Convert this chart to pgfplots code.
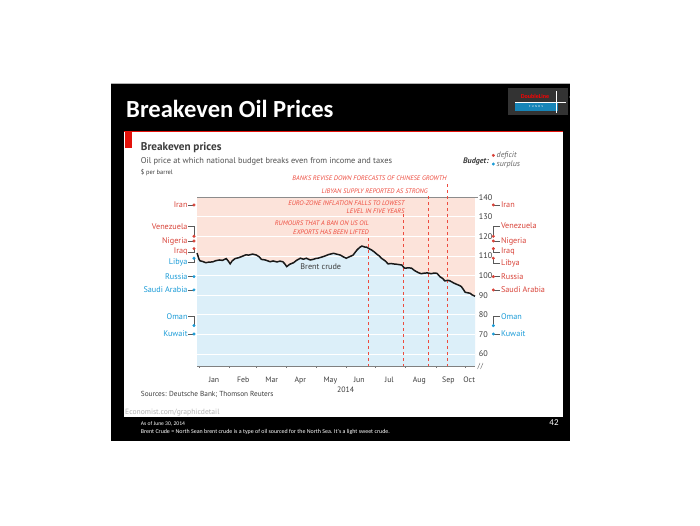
\documentclass[border=0pt]{standalone}
\usepackage{pgfplots}
\pgfplotsset{compat=1.18}
\usepackage{pgfplotstable}
\usepackage{fontspec}
\setmainfont{PT Sans}
\newfontfamily\slidefont{Carlito}
\definecolor{ecored}{HTML}{E3120B}
\definecolor{defred}{HTML}{D9443A}
\definecolor{surblue}{HTML}{1B9CD8}
\definecolor{pinkbg}{HTML}{FCE3DA}
\definecolor{bluebg}{HTML}{DCEFF9}
\definecolor{txtgray}{HTML}{3C3C3C}
\definecolor{dashred}{HTML}{EE4B3E}

\pgfplotstableread{
x y
-2 111.5
0 108.5
1 107.6
4 107.2
7 106.6
10 106.9
14 107.0
17 107.6
21 108.0
24 107.8
28 108.7
30 107.5
32 106.0
34 107.5
37 108.7
41 109.2
45 110.0
48 110.6
51 110.5
55 111.0
59 110.5
62 109.5
64 108.3
68 108.0
73 107.1
76 107.5
80 107.0
83 107.4
86 107.1
88 106.0
90 104.6
93 105.8
97 106.6
100 107.8
104 108.9
107 108.4
110 108.9
114 108.0
117 108.3
120 108.8
122 108.9
126 109.5
129 110.0
133 110.8
138 111.4
141 111.0
145 110.5
148 109.6
151 108.9
155 109.8
158 110.5
162 113.1
165 114.5
167 115.1
170 114.6
172 114.5
175 113.6
177 113.1
180 112.0
182 111.1
185 110.0
187 108.9
191 107.5
194 106.0
197 106.2
199 106.0
203 105.8
208 105.4
210 104.2
211 103.8
215 104.0
218 103.8
221 102.6
225 101.5
228 101.0
230 101.2
234 101.4
238 101.0
241 101.3
244 101.2
247 99.5
250 98.5
252 97.3
255 97.6
257 97.4
261 96.3
264 95.6
267 95.0
269 94.4
271 93.0
273 91.5
276 91.2
278 91.0
280 90.2
283 89.5
}\brent

\begin{document}
\begin{tikzpicture}[x=1pt,y=1pt]
% canvas
\fill[white] (0,0) rectangle (700,525);
% slide
\fill[black] (111,84) rectangle (570,442);
\draw[gray!60, line width=0.6pt] (111,442) -- (570,442);
\node[anchor=west, text=white, inner sep=0pt] at (126,416) {\slidefont\bfseries\fontsize{24.6}{25}\selectfont Breakeven Oil Prices};
% logo
\fill[black!80] (508,410) rectangle (568,437);
\node[anchor=center, text=red, inner sep=0pt] at (535,428.5) {\slidefont\bfseries\fontsize{6}{6}\selectfont DoubleLine};
\fill[surblue!85!black] (515,414) rectangle (558,422);
\node[anchor=center, text=white, inner sep=0pt] at (536,418) {\slidefont\fontsize{3}{3}\selectfont F\ \ U\ \ N\ \ D\ \ S};
\draw[white, line width=0.8pt] (556,412) -- (556,434);
\draw[white, line width=0.8pt] (515,423) -- (566,423);
\fill[white] (571,428) circle (1.6);
% panel
\fill[white] (124,108) rectangle (563,394);
\draw[ecored, line width=1pt] (124,393.5) -- (563,393.5);
\fill[ecored] (124.5,377) rectangle (131.5,394);
% titles
\node[anchor=base west, inner sep=0pt, text=txtgray] at (140.7,374) {\bfseries\fontsize{11.2}{12}\selectfont Breakeven prices};
\node[anchor=base west, inner sep=0pt, text=txtgray!90] at (140.7,361) {\fontsize{8.4}{9}\selectfont Oil price at which national budget breaks even from income and taxes};
\node[anchor=base west, inner sep=0pt, text=txtgray] at (140.7,350.5) {\fontsize{6.4}{7}\selectfont \$ per barrel};
% budget legend
\node[anchor=base east, inner sep=0pt, text=txtgray] at (489,361) {\bfseries\itshape\fontsize{8}{9}\selectfont Budget:};
\node[anchor=west, inner sep=0pt, text=txtgray!80] at (496.5,369.5) {\itshape\fontsize{8}{9}\selectfont deficit};
\node[anchor=west, inner sep=0pt, text=txtgray!80] at (496.5,360.5) {\itshape\fontsize{8}{9}\selectfont surplus};
% footer texts
\node[anchor=base, inner sep=0pt, text=txtgray] at (345.7,132.5) {\fontsize{7.8}{9}\selectfont 2014};
\node[anchor=west, inner sep=0pt, text=txtgray] at (140.7,130.7) {\fontsize{7.3}{9}\selectfont Sources: Deutsche Bank; Thomson Reuters};
\node[anchor=west, inner sep=0pt, text=gray!60] at (125,112.3) {\fontsize{7.6}{9}\selectfont Economist.com/graphicdetail};
\node[anchor=west, inner sep=0pt, text=white] at (140.7,100.7) {\slidefont\fontsize{5.6}{6}\selectfont As of June 30, 2014};
\node[anchor=west, inner sep=0pt, text=white] at (140.7,93) {\slidefont\fontsize{5.95}{6}\selectfont Brent Crude = North Sean brent crude is a type of oil sourced for the North Sea. It's a light sweet crude.};
\node[anchor=center, inner sep=0pt, text=white] at (554,102.7) {\slidefont\fontsize{9}{10}\selectfont 42};
% axis break symbol
\draw[gray, line width=0.5pt] (477.5,156) -- (480,162);
\draw[gray, line width=0.5pt] (480.5,156) -- (483,162);

\begin{axis}[
  at={(197pt,158.3pt)}, anchor=south west,
  scale only axis, width=278pt, height=169.4pt,
  xmin=-2, xmax=283, ymin=53.5, ymax=140,
  clip=false,
  axis line style={draw=none},
  xtick={15.4,45.4,74.6,103.9,134.7,164.4,195.2,226,255.7,277},
  xticklabels={Jan,Feb,Mar,Apr,May,Jun,Jul,Aug,Sep,Oct},
  major x tick style={draw=none},
  minor xtick={0,31,59,90,120,151,181,212,243,273},
  minor x tick style={black!55, line width=0.8pt},
  minor tick length=3pt,
  xtick pos=bottom,
  tick align=center,
  xticklabel style={font=\fontsize{7.8}{9}\selectfont, text=txtgray, anchor=base, yshift=-13.5pt},
  ytick={60,70,...,140},
  ytick pos=right, yticklabel pos=right,
  major y tick style={draw=none},
  yticklabel style={font=\fontsize{8.2}{9}\selectfont, text=txtgray, anchor=west, inner sep=0pt, xshift=1.5pt},
  /pgf/number format/assume math mode=true,
]
% pink deficit background
\addplot[fill=pinkbg, draw=none] coordinates {(-2,53.5) (283,53.5) (283,140) (-2,140)} -- cycle;
% blue surplus area under Brent
\addplot[fill=bluebg, draw=none] table {\brent} -- (axis cs:283,53.5) -- (axis cs:-2,53.5) -- cycle;
% white grid
\pgfplotsinvokeforeach{60,70,80,90,100,110,120,130}{
  \addplot[white, line width=0.9pt] coordinates {(-2,#1) (283,#1)};
}
\addplot[black!45, line width=0.6pt] coordinates {(-2,140) (286,140)};
% dashed event lines
\addplot[dashred, dashed, line width=0.7pt] coordinates {(173.6,53.5) (173.6,120.8)};
\addplot[dashred, dashed, line width=0.7pt] coordinates {(210,53.5) (210,131.5)};
\addplot[dashred, dashed, line width=0.7pt] coordinates {(235.2,53.5) (235.2,141.7)};
\addplot[dashred, dashed, line width=0.7pt] coordinates {(255.1,53.5) (255.1,148.3)};
% bottom axis line
\addplot[black!50, line width=1.4pt] coordinates {(-2,53.5) (283,53.5)};
% Brent crude
\addplot[black!90, line width=1.5pt] table {\brent};
\node[text=txtgray, font=\fontsize{8.2}{9}\selectfont] at (axis cs:124.9,104.6) {Brent crude};
% connectors left
\addplot[black!65] coordinates {(-11,136.1) (-5.1,136.1)};
\addplot[black!65] coordinates {(-11,125) (-5.1,125) (-5.1,120.1)};
\addplot[black!65] coordinates {(-11,117.7) (-5.1,117.7)};
\addplot[black!65] coordinates {(-11,112.2) (-5.1,112.2) (-5.1,113.8)};
\addplot[black!65] coordinates {(-11,106.8) (-5.1,106.8) (-5.1,108.9)};
\addplot[black!65] coordinates {(-11,99.5) (-5.1,99.5)};
\addplot[black!65] coordinates {(-11,92.7) (-5.1,92.7)};
\addplot[black!65] coordinates {(-11,79.1) (-5.1,79.1) (-5.1,74.5)};
\addplot[black!65] coordinates {(-11,70.2) (-5.1,70.2)};
% connectors right
\addplot[black!65] coordinates {(301.8,136.1) (309,136.1)};
\addplot[black!65] coordinates {(301.8,120.1) (301.8,125.3) (309,125.3)};
\addplot[black!65] coordinates {(301.8,117.7) (309,117.7)};
\addplot[black!65] coordinates {(301.8,113.8) (301.8,112.2) (309,112.2)};
\addplot[black!65] coordinates {(301.8,108.9) (301.8,106.3) (309,106.3)};
\addplot[black!65] coordinates {(301.8,99.5) (309,99.5)};
\addplot[black!65] coordinates {(301.8,92.7) (309,92.7)};
\addplot[black!65] coordinates {(301.8,74.5) (301.8,79.1) (309,79.1)};
\addplot[black!65] coordinates {(301.8,70.2) (309,70.2)};
% dots
\addplot[only marks, mark=*, mark size=1.3pt, defred] coordinates {(-5.1,136.1) (-5.1,120.1) (-5.1,117.7) (-5.1,113.8)};
\addplot[only marks, mark=*, mark size=1.3pt, surblue] coordinates {(-5.1,108.9) (-5.1,99.5) (-5.1,92.7) (-5.1,74.5) (-5.1,70.2)};
\addplot[only marks, mark=*, mark size=1.3pt, defred] coordinates {(301.8,136.1) (301.8,120.1) (301.8,117.7) (301.8,113.8) (301.8,108.9) (301.8,99.5) (301.8,92.7)};
\addplot[only marks, mark=*, mark size=1.3pt, surblue] coordinates {(301.8,74.5) (301.8,70.2)};
% budget legend dots
\addplot[only marks, mark=*, mark size=1.3pt, defred] coordinates {(301.8,161.4)};
\addplot[only marks, mark=*, mark size=1.3pt, surblue] coordinates {(301.8,157.0)};
% labels left
\begin{scope}[every node/.style={anchor=east, inner sep=0pt, font=\fontsize{8.2}{9}\selectfont}]
\node[text=defred] at (axis cs:-11.5,136.1) {Iran};
\node[text=defred] at (axis cs:-11.5,125) {Venezuela};
\node[text=defred] at (axis cs:-11.5,117.7) {Nigeria};
\node[text=defred] at (axis cs:-11.5,112.2) {Iraq};
\node[text=surblue] at (axis cs:-11.5,106.8) {Libya};
\node[text=surblue] at (axis cs:-11.5,99.5) {Russia};
\node[text=surblue] at (axis cs:-11.5,92.7) {Saudi Arabia};
\node[text=surblue] at (axis cs:-11.5,79.1) {Oman};
\node[text=surblue] at (axis cs:-11.5,70.2) {Kuwait};
\end{scope}
\begin{scope}[every node/.style={anchor=west, inner sep=0pt, font=\fontsize{8.2}{9}\selectfont}]
\node[text=defred] at (axis cs:309.5,136.1) {Iran};
\node[text=defred] at (axis cs:309.5,125.3) {Venezuela};
\node[text=defred] at (axis cs:309.5,117.7) {Nigeria};
\node[text=defred] at (axis cs:309.5,112.2) {Iraq};
\node[text=defred] at (axis cs:309.5,106.3) {Libya};
\node[text=defred] at (axis cs:309.5,99.5) {Russia};
\node[text=defred] at (axis cs:309.5,92.7) {Saudi Arabia};
\node[text=surblue] at (axis cs:309.5,79.1) {Oman};
\node[text=surblue] at (axis cs:309.5,70.2) {Kuwait};
\end{scope}
\end{axis}
% annotations (drawn over the plot background)
\begin{scope}[every node/.style={anchor=east, inner sep=0pt, text=dashred, font=\itshape\fontsize{6.6}{7}\selectfont}]
\node at (446.7,347.3) {BANKS REVISE DOWN FORECASTS OF CHINESE GROWTH};
\node at (428,334.3) {LIBYAN SUPPLY REPORTED AS STRONG};
\node at (404.7,322.3) {EURO-ZONE INFLATION FALLS TO LOWEST};
\node at (404.7,314) {LEVEL IN FIVE YEARS};
\node at (369,302) {RUMOURS THAT A BAN ON US OIL};
\node at (369,293.3) {EXPORTS HAS BEEN LIFTED};
\end{scope}
\end{tikzpicture}
\end{document}
